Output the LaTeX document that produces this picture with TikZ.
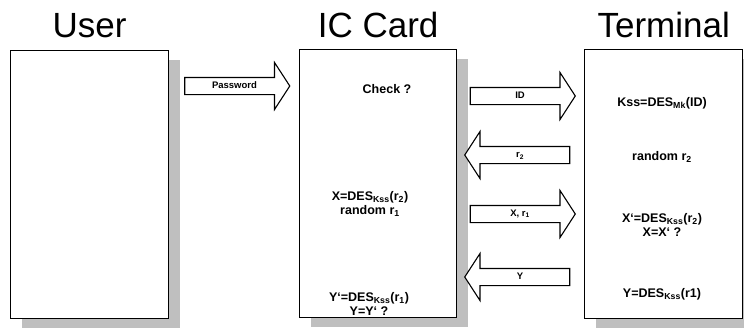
\documentclass[tikz,border=0pt]{standalone}
\usepackage{fontspec}
\setmainfont{Liberation Sans}
\usetikzlibrary{positioning,shapes.arrows,shadows}

\begin{document}
\begin{tikzpicture}
[x=1pt,y=-1pt,
  boxDecorate/.style={draw,line width=1.3pt,fill=white,anchor=north west,
    minimum width=158pt,minimum height=268pt,
    drop shadow={shadow xshift=11pt,shadow yshift=-9pt,fill=gray!50,opacity=1}},%
  titleDecorate/.style={font=\fontsize{35}{37}\selectfont,inner sep=0pt,anchor=base},%
  textDecorate/.style={font=\bfseries\fontsize{12.5}{14}\selectfont,align=center,inner sep=0pt},%
  arrowDecorate/.style={single arrow,draw,line width=1.1pt,fill=white,
    minimum height=105pt,single arrow head extend=15pt,single arrow tip angle=114,
    single arrow head indent=0pt,inner xsep=2pt,inner ysep=4pt,
    text height=6.5pt,text depth=1.5pt,font=\bfseries\fontsize{9.5}{10}\selectfont}]
\useasboundingbox (0,0) rectangle (744,327);
%% boxes
\node[boxDecorate] (user) at (10,50) {};
\node[boxDecorate,minimum width=157pt] (card) at (299,49) {};
\node[boxDecorate,minimum height=269pt] (term) at (584,49) {};
%% titles
\node[titleDecorate] (userTitle) at ([yshift=13pt]user.north) {User};
\node[titleDecorate] (cardTitle) at ([yshift=12pt]card.north) {IC Card};
\node[titleDecorate] (termTitle) at ([yshift=12pt]term.north) {Terminal};
%% card steps
\foreach \nodename/\x/\y/\txt in {
  check/387/89/{Check ?},
  xcalc/370/204/{X=DES\textsubscript{Kss}(r\textsubscript{2})\\random r\textsubscript{1}},
  ycheck/369/304/{Y`=DES\textsubscript{Kss}(r\textsubscript{1})\\Y=Y` ?}}
{
  \node[textDecorate] (\nodename) at (\x,\y) {\txt};
}
%% terminal steps
\foreach \nodename/\x/\y/\txt in {
  kss/662/103/{Kss=DES\textsubscript{Mk}(ID)},
  rtwo/662/157/{random r\textsubscript{2}},
  xcheck/662/225/{X`=DES\textsubscript{Kss}(r\textsubscript{2})\\X=X` ?},
  ycalc/662/294/{Y=DES\textsubscript{Kss}(r1)}}
{
  \node[textDecorate] (\nodename) at (\x,\y) {\txt};
}
%% messages
\node[arrowDecorate] (pwd) at (234.5,86) {Password};
\foreach \nodename/\y/\dir/\txt in {
  id/96/0/ID, rmsg/155/180/{r\textsubscript{2}},
  xmsg/214/0/{X, r\textsubscript{1}}, ymsg/277/180/Y}
{
  \node[arrowDecorate,shape border rotate=\dir] (\nodename) at (520,\y) {\txt};
};
\end{tikzpicture}
\end{document}
